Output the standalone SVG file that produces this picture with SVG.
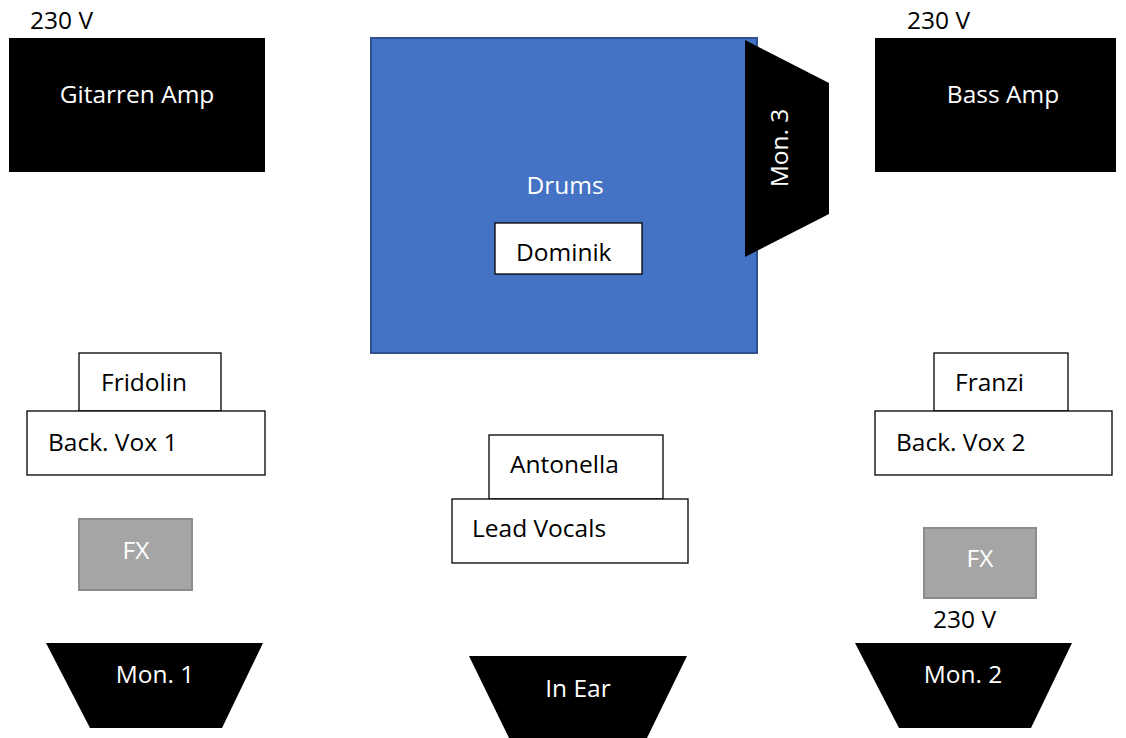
<svg xmlns="http://www.w3.org/2000/svg" width="1126" height="738" viewBox="0 0 1126 738">
<style>
text{font-family:"Open Sans","Liberation Sans",sans-serif;font-size:24.5px}
.w{fill:#fff}
.k{fill:#000}
.c{text-anchor:middle}
.blk{fill:#000}
.box{fill:#fff;stroke:#000;stroke-width:1.3}
.fx{fill:#a5a5a5;stroke:#8c8c8c;stroke-width:2}
.drum{fill:#4472c4;stroke:#2f528f;stroke-width:2}
</style>
<rect width="1126" height="738" fill="#fff"/>
<g id="power-left"><text x="30" y="29" class="k">230 V</text></g>
<g id="power-right"><text x="907" y="29" class="k">230 V</text></g>
<g id="gitarren-amp"><rect x="9" y="38" width="256" height="134" class="blk"/><text x="137" y="103" class="w c">Gitarren Amp</text></g>
<g id="bass-amp"><rect x="875" y="38" width="241" height="134" class="blk"/><text x="1003" y="103" class="w c">Bass Amp</text></g>
<g id="drums"><rect x="371" y="38" width="386" height="315" class="drum"/><text x="565" y="194" class="w c">Drums</text></g>
<g id="mon3"><polygon points="745,40 829,83 829,214 745,257" class="blk"/><text transform="translate(788,148) rotate(-90)" class="w c">Mon. 3</text></g>
<g id="dominik"><rect x="495" y="223" width="147" height="51" class="box"/><text x="516" y="261" class="k">Dominik</text></g>
<g id="fridolin"><rect x="79" y="353" width="142" height="58" class="box"/><text x="101" y="391" class="k">Fridolin</text></g>
<g id="backvox1"><rect x="27" y="411" width="238" height="64" class="box"/><text x="48" y="451" class="k">Back. Vox 1</text></g>
<g id="franzi"><rect x="934" y="353" width="134" height="58" class="box"/><text x="955" y="391" class="k">Franzi</text></g>
<g id="backvox2"><rect x="875" y="411" width="237" height="64" class="box"/><text x="896" y="451" class="k">Back. Vox 2</text></g>
<g id="antonella"><rect x="489" y="435" width="174" height="64" class="box"/><text x="510" y="473" class="k">Antonella</text></g>
<g id="leadvocals"><rect x="452" y="499" width="236" height="64" class="box"/><text x="472" y="537" class="k">Lead Vocals</text></g>
<g id="fx1"><rect x="79" y="519" width="113" height="71" class="fx"/><text x="136" y="559" class="w c">FX</text></g>
<g id="fx2"><rect x="924" y="528" width="112" height="70" class="fx"/><text x="980" y="567" class="w c">FX</text></g>
<g id="power-fx2"><text x="933" y="628" class="k">230 V</text></g>
<g id="mon1"><polygon points="46,643 263,643 222,728 90,728" class="blk"/><text x="155" y="683" class="w c">Mon. 1</text></g>
<g id="mon2"><polygon points="855,643 1072,643 1031,728 899,728" class="blk"/><text x="963" y="683" class="w c">Mon. 2</text></g>
<g id="inear"><polygon points="469,656 687,656 646,740 510,740" class="blk"/><text x="578" y="697" class="w c">In Ear</text></g>
<g id="connectors"/>
</svg>
